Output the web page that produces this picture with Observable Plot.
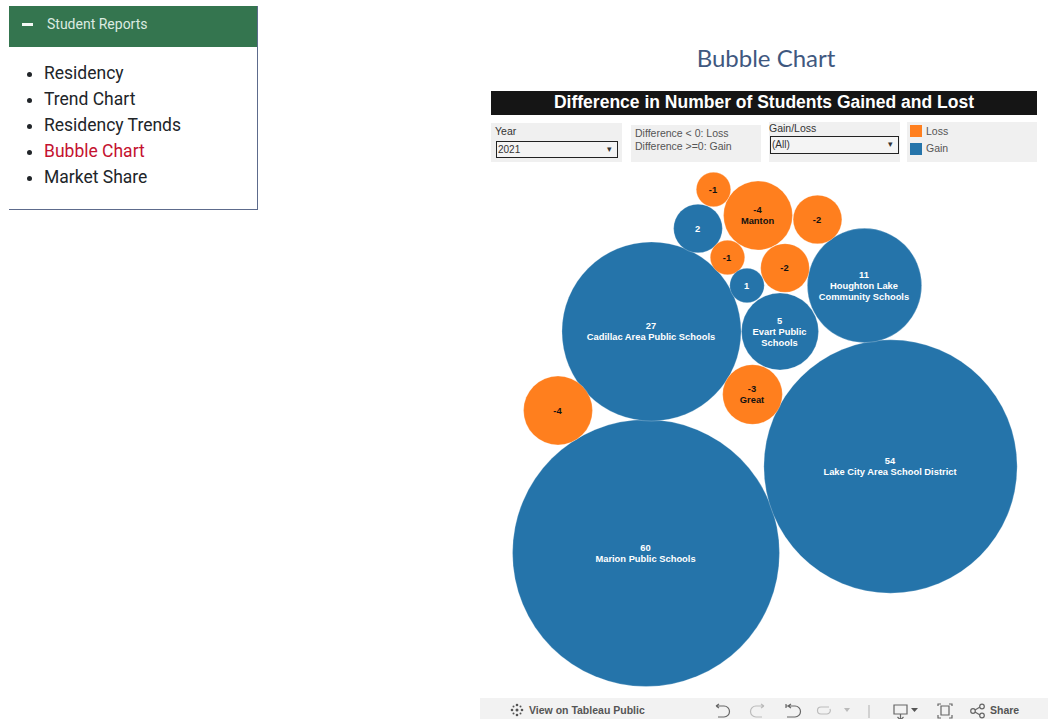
<!DOCTYPE html>
<html>
<head>
<meta charset="utf-8">
<script src="https://cdn.jsdelivr.net/npm/d3@7"></script>
<script src="https://cdn.jsdelivr.net/npm/@observablehq/plot@0.6"></script>
<style>
html,body{margin:0;padding:0;background:#fff;width:1050px;height:719px;overflow:hidden;font-family:"Liberation Sans",Arial,sans-serif}
.abs{position:absolute;box-sizing:border-box}
#nav{left:9px;top:6px;width:249px;height:204px;border-right:1px solid #5d6b8c;border-bottom:1px solid #5d6b8c}
#navh{left:0;top:0;width:248px;height:41px;background:#34754f;color:#dcebe1;font:14px/37px Roboto,sans-serif;padding-left:38px}
#dash{left:13px;top:17px;width:11px;height:2.5px;background:#f4f8f5}
#nav ul{position:absolute;left:0;top:54px;margin:0;padding:0 0 0 35px;font:17.5px/26px Roboto,sans-serif;color:#212529}
#nav li::marker{color:#212529}
#nav li.on{color:#c4122f}
#title{left:491px;top:43px;width:550px;text-align:center;font:24px/30px Lato,sans-serif;color:#3f587f}
#bar{left:491px;top:91px;width:546px;height:24px;background:#151515;color:#fff;text-align:center;font:bold 17.5px/23px "Liberation Sans",Arial,sans-serif}
.panel{background:#f0f0f0}
.lab{font-size:10.5px;color:#333;white-space:pre}
.sel{border:1px solid #222;background:#f4f4f4;font-size:10px;line-height:15px;padding-left:1px;color:#333}
.sel:after{content:"▾";position:absolute;right:5px;top:0;font-size:9px;color:#333}
.sw{width:12px;height:12px}
#tools{left:480px;top:698px;width:568px;height:21px;background:#f2f2f2;color:#555;font-weight:bold;font-size:10.5px;line-height:24px}
#tools svg{position:absolute;top:0;left:0}
#chart{left:480px;top:170px;width:570px;height:525px}
</style>
</head>
<body>
<div class="abs" id="nav">
  <div class="abs" id="navh">Student Reports</div><div class="abs" id="dash"></div>
  <ul><li>Residency</li><li>Trend Chart</li><li>Residency Trends</li><li class="on">Bubble Chart</li><li>Market Share</li></ul>
</div>
<div class="abs" id="title">Bubble Chart</div>
<div class="abs" id="bar">Difference in Number of Students Gained and Lost</div>

<div class="abs panel" style="left:491px;top:123px;width:131px;height:39px"></div>
<div class="abs lab" style="left:495px;top:125px">Year</div>
<div class="abs sel" style="left:496px;top:141px;width:122px;height:17px">2021</div>
<div class="abs panel" style="left:631px;top:125px;width:130px;height:37px"></div>
<div class="abs lab" style="left:635px;top:127px;line-height:13px;color:#555">Difference &lt; 0: Loss
Difference &gt;=0: Gain</div>
<div class="abs panel" style="left:769px;top:122px;width:131px;height:40px"></div>
<div class="abs lab" style="left:769px;top:122px">Gain/Loss</div>
<div class="abs sel" style="left:770px;top:136px;width:129px;height:18px">(All)</div>
<div class="abs panel" style="left:907px;top:122px;width:130px;height:40px"></div>
<div class="abs sw" style="left:910px;top:125px;background:#ff7f1e"></div>
<div class="abs lab" style="left:926px;top:125px;color:#555">Loss</div>
<div class="abs sw" style="left:910px;top:143px;background:#2574aa"></div>
<div class="abs lab" style="left:926px;top:142px;color:#555">Gain</div>

<div class="abs" id="chart"></div>

<div class="abs" id="tools">
  <svg width="568" height="21" fill="none" stroke="#666" stroke-width="1.2">
    <g fill="#555" stroke="none">
      <circle cx="37" cy="7" r="1.300"/><circle cx="37" cy="17" r="1.300"/><circle cx="32" cy="12" r="1.300"/><circle cx="42" cy="12" r="1.300"/>
      <circle cx="33.500" cy="8.500" r="1"/><circle cx="40.500" cy="8.500" r="1"/><circle cx="33.500" cy="15.500" r="1"/><circle cx="40.500" cy="15.500" r="1"/>
      <circle cx="37" cy="12" r="1.500"/>
    </g>
    <path d="M236 8h8a5 5 0 0 1 0 11h-6M236 8l3-2M236 8l3 2"/>
    <path d="M284 8h-8a5 5 0 0 0 0 11h6M284 8l-3-2M284 8l-3 2" stroke="#bbb"/>
    <path d="M306 8h9a5 5 0 0 1 0 11h-8M306 6v4M308 8l3-2M308 8l3 2"/>
    <path d="M349 9h-8a3.500 3.500 0 0 0 0 7h6a3.500 3.500 0 0 0 3-5" stroke="#bbb"/>
    <path d="M364 10l3 4 3-4z" fill="#bbb" stroke="none"/>
    <path d="M389 7v13" stroke="#bbb"/>
    <path d="M414 7h13v9h-13zM420.500 16v5M417.500 19l3 3 3-3"/>
    <path d="M431 10l3.500 4 3.500-4z" fill="#555" stroke="none"/>
    <path d="M458 8v-2h3M469 6h3v2M472 17v3h-3M461 20h-3v-3M461 8h8v9h-8z"/>
    <circle cx="493" cy="13" r="2.300"/><circle cx="502" cy="8.500" r="2.300"/><circle cx="502" cy="17.500" r="2.300"/>
    <path d="M495 12l5-3M495 14l5 3"/>
  </svg>
  <span class="abs" style="left:49px;top:0">View on Tableau Public</span>
  <span class="abs" style="left:510px;top:0">Share</span>
</div>

<script>
const names = ["", "Manton", "", "", "", "", "", "Houghton Lake\nCommunity Schools", "Evart Public\nSchools", "Cadillac Area Public Schools", "Great", "", "Lake City Area School District", "Marion Public Schools"];
const diffs = [-1, -4, -2, 2, -1, -2, 1, 11, 5, 27, -3, -4, 54, 60];
// horizontal and vertical place of each bubble in the packed layout
const packX = [233, 277.5, 337, 217.5, 247, 304.5, 266.5, 384, 299.5, 171, 272, 77.5, 410, 165.5];
const packY = [19, 45, 49, 58, 87, 97.5, 115, 115, 161, 161, 224, 240, 296, 382.5];
const groups = ["Loss", "Gain"];
const groupColors = ["#ff7f1e", "#2574aa"];

const bubbles = diffs.map((d, i) => ({
  name: names[i], diff: d, size: Math.abs(d), px: packX[i], py: packY[i],
  group: d < 0 ? "Loss" : "Gain",
  label: names[i] ? d + "\n" + names[i] : String(d)
}));

const textStyle = {x: "px", y: "py", text: "label", fontWeight: "bold", fontSize: 9.35, lineHeight: 1.18, dy: -0.5, dx: -0.5, fontFamily: "Liberation Sans"};

const chart = Plot.plot({
  width: 570, height: 525, margin: 0,
  x: {domain: [0, 570], axis: null},
  y: {domain: [0, 525], range: [0, 525], axis: null},
  r: {domain: [0, 60], range: [0, 133.5]},
  color: {domain: groups, range: groupColors},
  marks: [
    Plot.dot(bubbles, {x: "px", y: "py", r: "size", fill: "group", fillOpacity: 1, stroke: "white", strokeWidth: 0.4, strokeOpacity: 0.6}),
    Plot.text(bubbles.filter(d => d.group === "Gain"), {...textStyle, fill: "white"}),
    Plot.text(bubbles.filter(d => d.group === "Loss"), {...textStyle, fill: "#111"})
  ]
});
document.getElementById("chart").appendChild(chart);
</script>
</body>
</html>
